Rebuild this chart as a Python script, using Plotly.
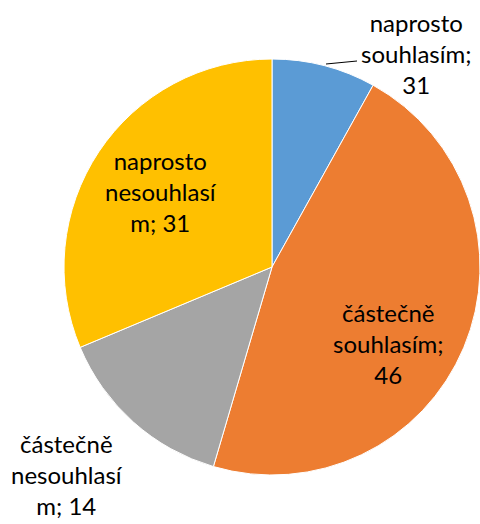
import plotly.graph_objects as go

categories = ["naprosto souhlasím", "částečně souhlasím", "částečně nesouhlasím", "naprosto nesouhlasím"]
values = [8, 46, 14, 31]
label_numbers = [31, 46, 14, 31]  # numbers as printed on the chart labels
colors = ["#5B9BD5", "#ED7D31", "#A5A5A5", "#FFC000"]
label_lines = [
    ["naprosto", "souhlasím;", "{n}"],
    ["částečně", "souhlasím;", "{n}"],
    ["částečně", "nesouhlasí", "m; {n}"],
    ["naprosto", "nesouhlasí", "m; {n}"],
]
# label centres in pixels (x, y from top)
label_pos = [(416, 53), (388, 343), (67, 474), (161, 191)]

W, H = 480, 524

fig = go.Figure(go.Pie(
    labels=categories,
    values=values,
    sort=False,
    direction="clockwise",
    rotation=0,
    marker=dict(colors=colors, line=dict(color="white", width=1)),
    textinfo="none",
    hoverinfo="label+value",
    showlegend=False,
    domain=dict(x=[64 / W, 1.0], y=[1 - (267 + 212) / H, 1 - (267 - 212) / H]),
))

annotations = []
for lines, n, (px, py) in zip(label_lines, label_numbers, label_pos):
    text = "<br>".join(l.format(n=n) for l in lines)
    annotations.append(dict(
        x=px / W, y=1 - py / H, xref="paper", yref="paper",
        text=text, showarrow=False, align="center",
        xanchor="center", yanchor="middle",
        font=dict(family="Lato", size=24, color="#000000"),
    ))

fig.update_layout(
    width=W, height=H,
    margin=dict(l=0, r=0, t=0, b=0),
    paper_bgcolor="white",
    plot_bgcolor="white",
    annotations=annotations,
    shapes=[dict(type="line", xref="paper", yref="paper",
                 x0=326 / W, y0=1 - 64 / H, x1=357 / W, y1=1 - 61 / H,
                 line=dict(color="black", width=1))],
)

fig.write_html("out.html", config={"displayModeBar": False},
               post_script="document.body.style.margin='0';")
